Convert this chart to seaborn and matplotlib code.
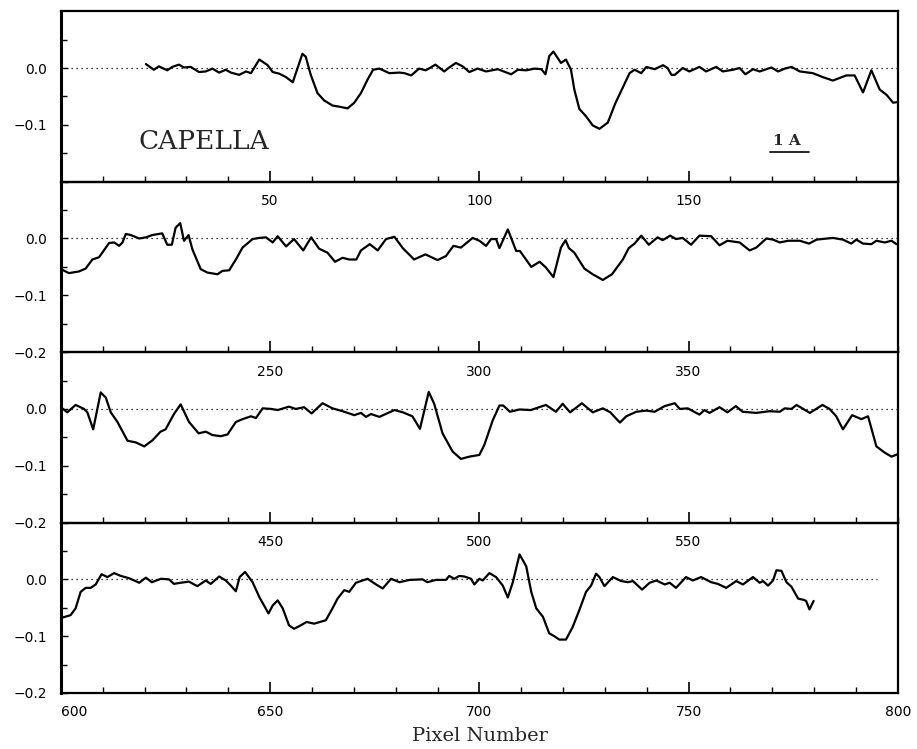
import matplotlib
matplotlib.use("Agg")
import matplotlib.pyplot as plt
from matplotlib.ticker import MultipleLocator, FixedLocator
import seaborn as sns

# ---------------- data ----------------
row1_pixel = [20.3, 22.2, 23.4, 25.4, 26.6, 28.2, 29.4, 31.0, 33.0, 34.6,
              36.2, 37.8, 39.4, 40.6, 42.6, 44.2, 45.4, 47.4, 49.4, 50.6,
              52.2, 53.8, 55.4, 57.7, 58.5, 59.7, 61.3, 62.9, 64.9, 66.5,
              68.5, 70.1, 71.7, 73.3, 74.6, 76.1, 78.5, 80.9, 82.1, 83.7,
              85.6, 87.2, 89.5, 91.6, 92.8, 94.4, 96.0, 97.6, 99.6, 101.6,
              104.4, 107.6, 109.2, 111.2, 113.2, 114.8, 115.8, 116.7, 117.7, 119.5,
              120.7, 121.9, 122.7, 123.9, 125.5, 127.1, 128.7, 130.7, 132.5, 134.3,
              135.9, 137.1, 138.7, 139.9, 141.9, 143.9, 145.0, 145.9, 146.7, 148.6,
              150.2, 152.6, 154.2, 156.6, 158.2, 160.6, 162.2, 163.6, 165.4, 167.0,
              169.8, 171.4, 173.0, 174.6, 176.6, 179.7, 182.1, 184.5, 187.7, 189.7,
              191.7, 193.7, 195.7, 197.3, 198.9, 199.9]
row1_flux = [0.007, -0.003, 0.003, -0.004, 0.002, 0.006, 0.001, 0.002, -0.007, -0.006,
             -0.001, -0.008, -0.003, -0.008, -0.012, -0.006, -0.009, 0.015, 0.005, -0.007,
             -0.010, -0.016, -0.025, 0.025, 0.020, -0.012, -0.044, -0.057, -0.066, -0.068,
             -0.071, -0.061, -0.044, -0.020, -0.003, -0.001, -0.009, -0.008, -0.009, -0.013,
             -0.001, -0.004, 0.006, -0.006, 0.001, 0.009, 0.003, -0.007, -0.001, -0.006,
             -0.002, -0.011, -0.003, -0.004, -0.001, -0.002, -0.011, 0.021, 0.029, 0.009,
             0.015, -0.003, -0.038, -0.072, -0.085, -0.101, -0.107, -0.096, -0.062, -0.034,
             -0.009, -0.003, -0.009, 0.002, -0.002, 0.005, 0.000, -0.012, -0.012, 0.000,
             -0.006, 0.002, -0.006, 0.002, -0.006, -0.003, 0.000, -0.011, -0.002, -0.006,
             0.001, -0.006, -0.001, 0.002, -0.006, -0.009, -0.016, -0.022, -0.013, -0.013,
             -0.043, -0.004, -0.038, -0.047, -0.061, -0.060]

row2_pixel = [200.0, 201.9, 204.3, 205.9, 207.5, 209.1, 211.5, 212.7, 213.9, 214.7,
              215.5, 216.7, 218.7, 220.3, 221.8, 224.2, 225.4, 226.5, 227.4, 228.5,
              229.4, 230.5, 231.4, 233.4, 235.0, 237.4, 238.6, 240.2, 241.8, 243.4,
              245.8, 247.4, 249.0, 250.6, 251.8, 253.8, 255.7, 257.9, 259.8, 261.7,
              263.7, 265.5, 267.3, 268.9, 270.6, 271.7, 273.8, 275.7, 277.7, 279.7,
              281.7, 284.4, 287.1, 290.0, 292.0, 293.8, 295.6, 298.4, 300.0, 301.6,
              302.8, 304.0, 304.8, 306.8, 308.8, 309.7, 312.4, 314.4, 315.9, 317.7,
              319.5, 320.6, 321.4, 322.7, 325.1, 327.1, 329.5, 331.7, 334.3, 335.7,
              337.1, 338.7, 340.5, 342.6, 343.8, 345.6, 347.0, 348.6, 350.6, 352.6,
              355.4, 357.4, 359.3, 362.2, 364.6, 366.2, 368.6, 370.2, 371.8, 373.8,
              376.6, 378.8, 380.6, 384.5, 386.9, 388.9, 390.1, 391.7, 393.7, 394.9,
              396.9, 398.5, 399.7]
row2_flux = [-0.054, -0.061, -0.058, -0.053, -0.037, -0.033, -0.008, -0.007, -0.013, -0.007,
             0.008, 0.006, 0.000, 0.002, 0.006, 0.009, -0.011, -0.011, 0.019, 0.027,
             -0.004, 0.006, -0.019, -0.054, -0.060, -0.063, -0.057, -0.056, -0.037, -0.016,
             -0.001, 0.001, 0.002, -0.007, 0.004, -0.014, -0.001, -0.021, 0.002, -0.018,
             -0.025, -0.041, -0.034, -0.037, -0.037, -0.021, -0.010, -0.021, -0.001, 0.003,
             -0.017, -0.037, -0.028, -0.038, -0.031, -0.013, -0.016, 0.001, -0.004, -0.013,
             -0.001, -0.001, -0.017, 0.016, -0.022, -0.022, -0.050, -0.041, -0.051, -0.068,
             -0.016, -0.003, -0.017, -0.025, -0.053, -0.063, -0.073, -0.063, -0.037, -0.017,
             -0.009, 0.005, -0.011, 0.002, -0.003, 0.005, -0.001, 0.001, -0.011, 0.005,
             0.004, -0.012, -0.004, -0.007, -0.021, -0.016, 0.000, -0.002, -0.007, -0.004,
             -0.004, -0.009, -0.002, 0.001, -0.002, -0.009, -0.002, -0.009, -0.010, -0.004,
             -0.007, -0.004, -0.010]

row3_pixel = [400.0, 401.5, 403.5, 405.5, 406.3, 407.7, 409.5, 410.7, 411.9, 413.5,
              415.9, 417.9, 419.9, 421.9, 423.8, 425.0, 427.0, 428.6, 430.6, 432.9,
              434.6, 436.2, 438.2, 439.8, 441.8, 443.4, 445.4, 446.6, 448.2, 450.2,
              451.8, 454.5, 456.1, 458.1, 459.9, 462.5, 464.9, 467.3, 470.1, 471.7,
              472.9, 474.1, 476.1, 478.5, 479.7, 481.7, 484.0, 485.8, 487.9, 489.2,
              491.2, 493.6, 495.6, 497.6, 500.0, 501.2, 503.2, 504.8, 505.7, 507.3,
              509.6, 512.3, 515.9, 518.3, 519.9, 521.7, 524.5, 527.1, 529.5, 531.3,
              532.3, 533.6, 535.1, 537.5, 539.9, 541.9, 544.3, 546.7, 547.9, 549.8,
              552.6, 553.8, 555.0, 557.4, 559.3, 561.3, 562.9, 566.2, 569.4, 571.8,
              573.0, 574.6, 575.8, 577.4, 579.0, 582.0, 583.7, 585.3, 586.9, 589.1,
              591.3, 592.9, 594.9, 596.9, 598.5, 599.9]
row3_flux = [0.003, -0.006, 0.007, 0.000, -0.006, -0.036, 0.029, 0.020, -0.006, -0.023,
             -0.056, -0.059, -0.066, -0.055, -0.040, -0.036, -0.009, 0.008, -0.023, -0.043,
             -0.040, -0.046, -0.048, -0.045, -0.023, -0.018, -0.013, -0.016, 0.001, 0.000,
             -0.002, 0.004, 0.000, 0.003, -0.008, 0.010, 0.001, -0.004, -0.011, -0.007,
             -0.014, -0.009, -0.014, -0.006, -0.002, -0.006, -0.013, -0.035, 0.030, 0.009,
             -0.043, -0.075, -0.088, -0.084, -0.081, -0.063, -0.020, 0.006, 0.006, -0.005,
             -0.001, -0.002, 0.007, -0.005, 0.009, -0.006, 0.010, -0.006, 0.001, -0.006,
             -0.014, -0.024, -0.013, -0.005, -0.003, -0.005, 0.005, 0.010, 0.000, 0.001,
             -0.010, -0.002, -0.007, 0.003, -0.006, 0.005, -0.005, -0.007, -0.004, -0.005,
             0.001, 0.000, 0.007, 0.000, -0.007, 0.007, 0.000, -0.013, -0.036, -0.011,
             -0.018, -0.013, -0.066, -0.077, -0.084, -0.080]

row4_pixel = [600.5, 602.3, 603.5, 604.7, 605.9, 607.1, 608.3, 609.7, 611.1, 612.7,
              614.3, 616.3, 618.7, 620.3, 621.7, 623.9, 625.8, 627.0, 628.6, 630.6,
              632.6, 634.6, 635.8, 637.8, 639.4, 640.6, 641.8, 642.7, 644.0, 645.8,
              647.4, 649.6, 650.6, 651.8, 653.0, 654.5, 655.7, 657.3, 658.7, 660.5,
              663.3, 664.9, 666.1, 667.7, 668.9, 670.5, 673.3, 675.3, 676.9, 678.9,
              680.9, 683.3, 686.4, 687.6, 689.6, 692.0, 692.8, 694.0, 695.2, 696.4,
              698.0, 698.8, 700.0, 700.8, 702.4, 704.0, 705.6, 706.8, 708.0, 709.6,
              711.2, 712.4, 713.6, 715.2, 716.7, 717.9, 719.1, 720.7, 722.3, 723.9,
              725.5, 726.7, 727.9, 728.7, 729.9, 731.9, 733.9, 735.5, 736.7, 738.9,
              740.7, 742.3, 744.3, 745.5, 747.0, 749.4, 751.0, 753.0, 755.4, 757.0,
              759.0, 761.4, 763.0, 765.4, 767.0, 767.8, 769.0, 770.2, 771.0, 772.2,
              773.4, 774.6, 776.2, 777.5, 778.1, 778.9, 779.9]
row4_flux = [-0.067, -0.063, -0.051, -0.022, -0.015, -0.015, -0.009, 0.009, 0.004, 0.011,
             0.006, 0.002, -0.006, 0.003, -0.005, 0.001, 0.000, -0.008, -0.006, -0.004,
             -0.012, -0.002, -0.008, 0.005, -0.002, -0.011, -0.021, 0.004, 0.013, -0.005,
             -0.031, -0.060, -0.046, -0.037, -0.051, -0.081, -0.087, -0.081, -0.075, -0.078,
             -0.072, -0.051, -0.034, -0.019, -0.022, -0.006, 0.001, -0.009, -0.016, 0.001,
             -0.005, -0.001, 0.000, -0.005, -0.001, -0.001, 0.006, 0.001, 0.006, 0.005,
             0.001, -0.009, 0.001, -0.002, 0.011, 0.004, -0.011, -0.032, -0.005, 0.044,
             0.023, -0.022, -0.051, -0.066, -0.095, -0.100, -0.106, -0.106, -0.084, -0.054,
             -0.022, -0.011, 0.010, 0.004, -0.012, 0.004, -0.003, -0.005, -0.003, -0.018,
             -0.006, -0.002, -0.009, -0.006, -0.015, 0.004, -0.002, 0.004, -0.005, -0.008,
             -0.015, -0.003, -0.009, 0.004, -0.006, -0.003, -0.011, -0.002, 0.016, 0.015,
             -0.005, -0.013, -0.034, -0.036, -0.038, -0.053, -0.038]

rows_pixel = [row1_pixel, row2_pixel, row3_pixel, row4_pixel]
rows_flux = [row1_flux, row2_flux, row3_flux, row4_flux]
row_starts = [0, 200, 400, 600]
row_span = 200
row_major_ticks = [[50, 100, 150], [250, 300, 350], [450, 500, 550],
                   [600, 650, 700, 750, 800]]
y_ticks = [-0.2, -0.1, 0.0]
y_minor_ticks = [-0.15, -0.05, 0.05]
y_tick_labels = ["\u22120.2", "\u22120.1", "0.0"]
zero_line_end_last_row = 795
star_name = "CAPELLA"
scale_label = "1 A"
x_label = "Pixel Number"

# ---------------- figure ----------------
sns.set_style("ticks")
plt.rcParams["font.family"] = ["DejaVu Sans"]

fig, axes = plt.subplots(4, 1, figsize=(9.17, 7.49), dpi=100)
fig.patch.set_facecolor("white")
fig.subplots_adjust(left=0.0665, right=0.979, top=0.985, bottom=0.0748, hspace=0)

for i, ax in enumerate(axes):
    lo = row_starts[i]
    ax.patch.set_visible(False)
    sns.lineplot(x=rows_pixel[i], y=rows_flux[i], ax=ax, color="black",
                 linewidth=1.6, estimator=None, sort=False)
    if i == 3:
        ax.hlines(0, lo, zero_line_end_last_row, colors="black",
                  linestyles=(0, (1, 3)), linewidth=0.9)
    else:
        ax.axhline(0, color="black", linestyle=(0, (1, 3)), linewidth=0.9)
    ax.set_xlim(lo, lo + row_span)
    ax.set_ylim(-0.2, 0.1)

    ax.xaxis.set_major_locator(FixedLocator(row_major_ticks[i]))
    ax.xaxis.set_minor_locator(MultipleLocator(10))
    ax.set_xticklabels([str(t) for t in row_major_ticks[i]])
    ax.yaxis.set_major_locator(FixedLocator(y_ticks))
    ax.yaxis.set_minor_locator(FixedLocator(y_minor_ticks))
    labels = list(y_tick_labels)
    if i == 0:
        labels[0] = ""
    ax.set_yticklabels(labels)

    ax.tick_params(axis="x", which="both", direction="in", top=False, bottom=True,
                   labelsize=10, pad=9, colors="black", labelbottom=True)
    ax.tick_params(axis="x", which="major", length=8, width=1.2)
    ax.tick_params(axis="x", which="minor", length=4, width=1.0)
    ax.tick_params(axis="y", which="both", direction="in", left=True, right=False,
                   labelsize=10, pad=10, colors="black")
    ax.tick_params(axis="y", which="major", length=5, width=1.0)
    ax.tick_params(axis="y", which="minor", length=4, width=1.0)
    for s in ax.spines.values():
        s.set_visible(True)
        s.set_color("black")
        s.set_linewidth(1.6)
    ax.spines["left"].set_linewidth(2.2)
    ax.set_xlabel("")
    ax.set_ylabel("")

# left-align the first label of the bottom row
axes[3].get_xticklabels()[0].set_horizontalalignment("left")

ax0 = axes[0]
ax0.text(0.171, 0.235, star_name, transform=ax0.transAxes, ha="center", va="center",
         fontsize=19, family="DejaVu Serif")
ax0.text(0.868, 0.240, scale_label, transform=ax0.transAxes, ha="center", va="center",
         fontsize=11, family="DejaVu Serif", fontweight="bold")
ax0.plot([0.847, 0.894], [0.176, 0.176], transform=ax0.transAxes, color="black",
         linewidth=1.2)

fig.text(0.523, 0.017, x_label, ha="center", va="center", fontsize=14,
         family="DejaVu Serif")

fig.savefig("out.png", dpi=100, facecolor="white")
